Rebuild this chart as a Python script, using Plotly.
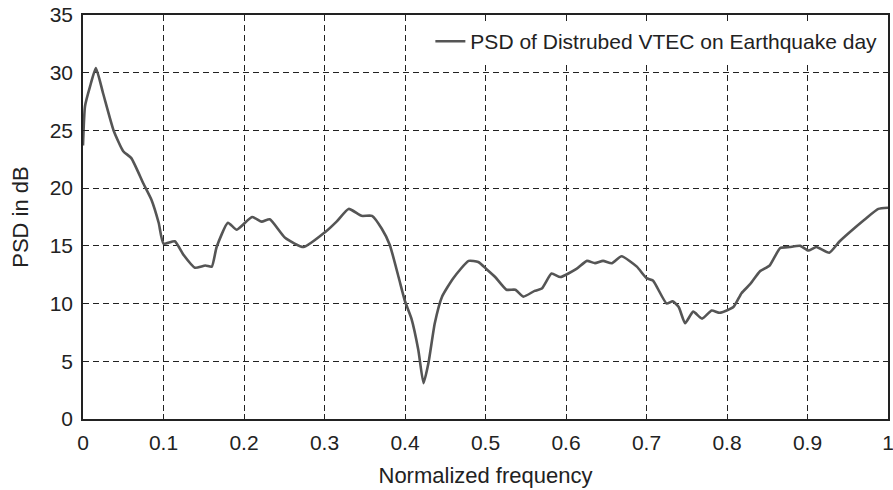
import plotly.graph_objects as go

freq = [0.000, 0.0025, 0.0087, 0.016, 0.025, 0.038, 0.050, 0.060, 0.075, 0.085,
        0.094, 0.100, 0.114, 0.125, 0.139, 0.152, 0.160, 0.166, 0.180, 0.191,
        0.210, 0.222, 0.232, 0.251, 0.274, 0.301, 0.315, 0.330, 0.346, 0.359,
        0.371, 0.381, 0.392, 0.400, 0.408, 0.4165, 0.423, 0.429, 0.437, 0.446,
        0.460, 0.479, 0.491, 0.501, 0.512, 0.526, 0.537, 0.547, 0.561, 0.570,
        0.582, 0.593, 0.613, 0.626, 0.636, 0.646, 0.657, 0.669, 0.688, 0.700,
        0.708, 0.725, 0.7325, 0.740, 0.748, 0.758, 0.769, 0.781, 0.791, 0.808,
        0.818, 0.829, 0.841, 0.853, 0.866, 0.878, 0.891, 0.901, 0.911, 0.927,
        0.940, 0.961, 0.973, 0.988, 1.000]
psd_db = [23.7, 27.1, 28.8, 30.4, 28.2, 25.0, 23.2, 22.6, 20.4, 19.0,
          17.0, 15.2, 15.4, 14.2, 13.1, 13.3, 13.2, 14.9, 17.0, 16.4,
          17.5, 17.1, 17.3, 15.7, 14.9, 16.2, 17.1, 18.2, 17.6, 17.6,
          16.5, 15.1, 12.3, 10.2, 8.7, 6.0, 3.1, 4.8, 8.3, 10.6,
          12.2, 13.7, 13.6, 13.0, 12.3, 11.2, 11.2, 10.6, 11.1, 11.3,
          12.6, 12.3, 13.0, 13.7, 13.5, 13.7, 13.5, 14.1, 13.2, 12.2,
          12.0, 10.0, 10.2, 9.7, 8.3, 9.3, 8.7, 9.4, 9.2, 9.7,
          10.9, 11.7, 12.8, 13.3, 14.8, 14.9, 15.0, 14.6, 14.9, 14.4,
          15.4, 16.7, 17.4, 18.2, 18.3]

x_ticks = [0, 0.1, 0.2, 0.3, 0.4, 0.5, 0.6, 0.7, 0.8, 0.9, 1]
x_tick_labels = ["0", "0.1", "0.2", "0.3", "0.4", "0.5", "0.6", "0.7", "0.8", "0.9", "1"]
y_ticks = [0, 5, 10, 15, 20, 25, 30, 35]

FONT = "Liberation Sans, Arial, sans-serif"

fig = go.Figure()
fig.add_trace(go.Scatter(
    x=freq, y=psd_db, mode="lines",
    name="PSD of Distrubed VTEC on Earthquake day",
    line=dict(color="#555555", width=2.6, shape="spline", smoothing=0.5),
))

axis_common = dict(
    showline=True, linecolor="#222222", linewidth=1.5, mirror="ticks",
    ticks="inside", ticklen=5, tickcolor="#222222",
    showgrid=True, gridcolor="#222222", gridwidth=1, griddash="6px,4px",
    zeroline=False, automargin=False, ticklabeloverflow="allow",
    tickfont=dict(family=FONT, size=21, color="#222222"),
)

fig.update_layout(
    width=893, height=490,
    margin=dict(l=83, r=5, t=15, b=71),
    paper_bgcolor="white", plot_bgcolor="white",
    font=dict(family=FONT, color="#222222"),
    showlegend=True,
    legend=dict(x=0.993, y=0.985, xanchor="right", yanchor="top",
                bgcolor="white", borderwidth=0,
                font=dict(family=FONT, size=21, color="#222222")),
    xaxis=dict(range=[0, 1], tickvals=x_ticks, ticktext=x_tick_labels,
               ticklabelstandoff=4,
               title=dict(text="Normalized frequency", font=dict(family=FONT, size=22), standoff=15),
               **axis_common),
    yaxis=dict(range=[0, 35], tickvals=y_ticks,
               ticklabelstandoff=4,
               title=dict(text="PSD in dB", font=dict(family=FONT, size=22), standoff=15),
               **axis_common),
)

fig.write_html("out.html",
               config={"displayModeBar": False},
               post_script="document.body.style.margin='0';document.body.style.overflow='hidden';")
